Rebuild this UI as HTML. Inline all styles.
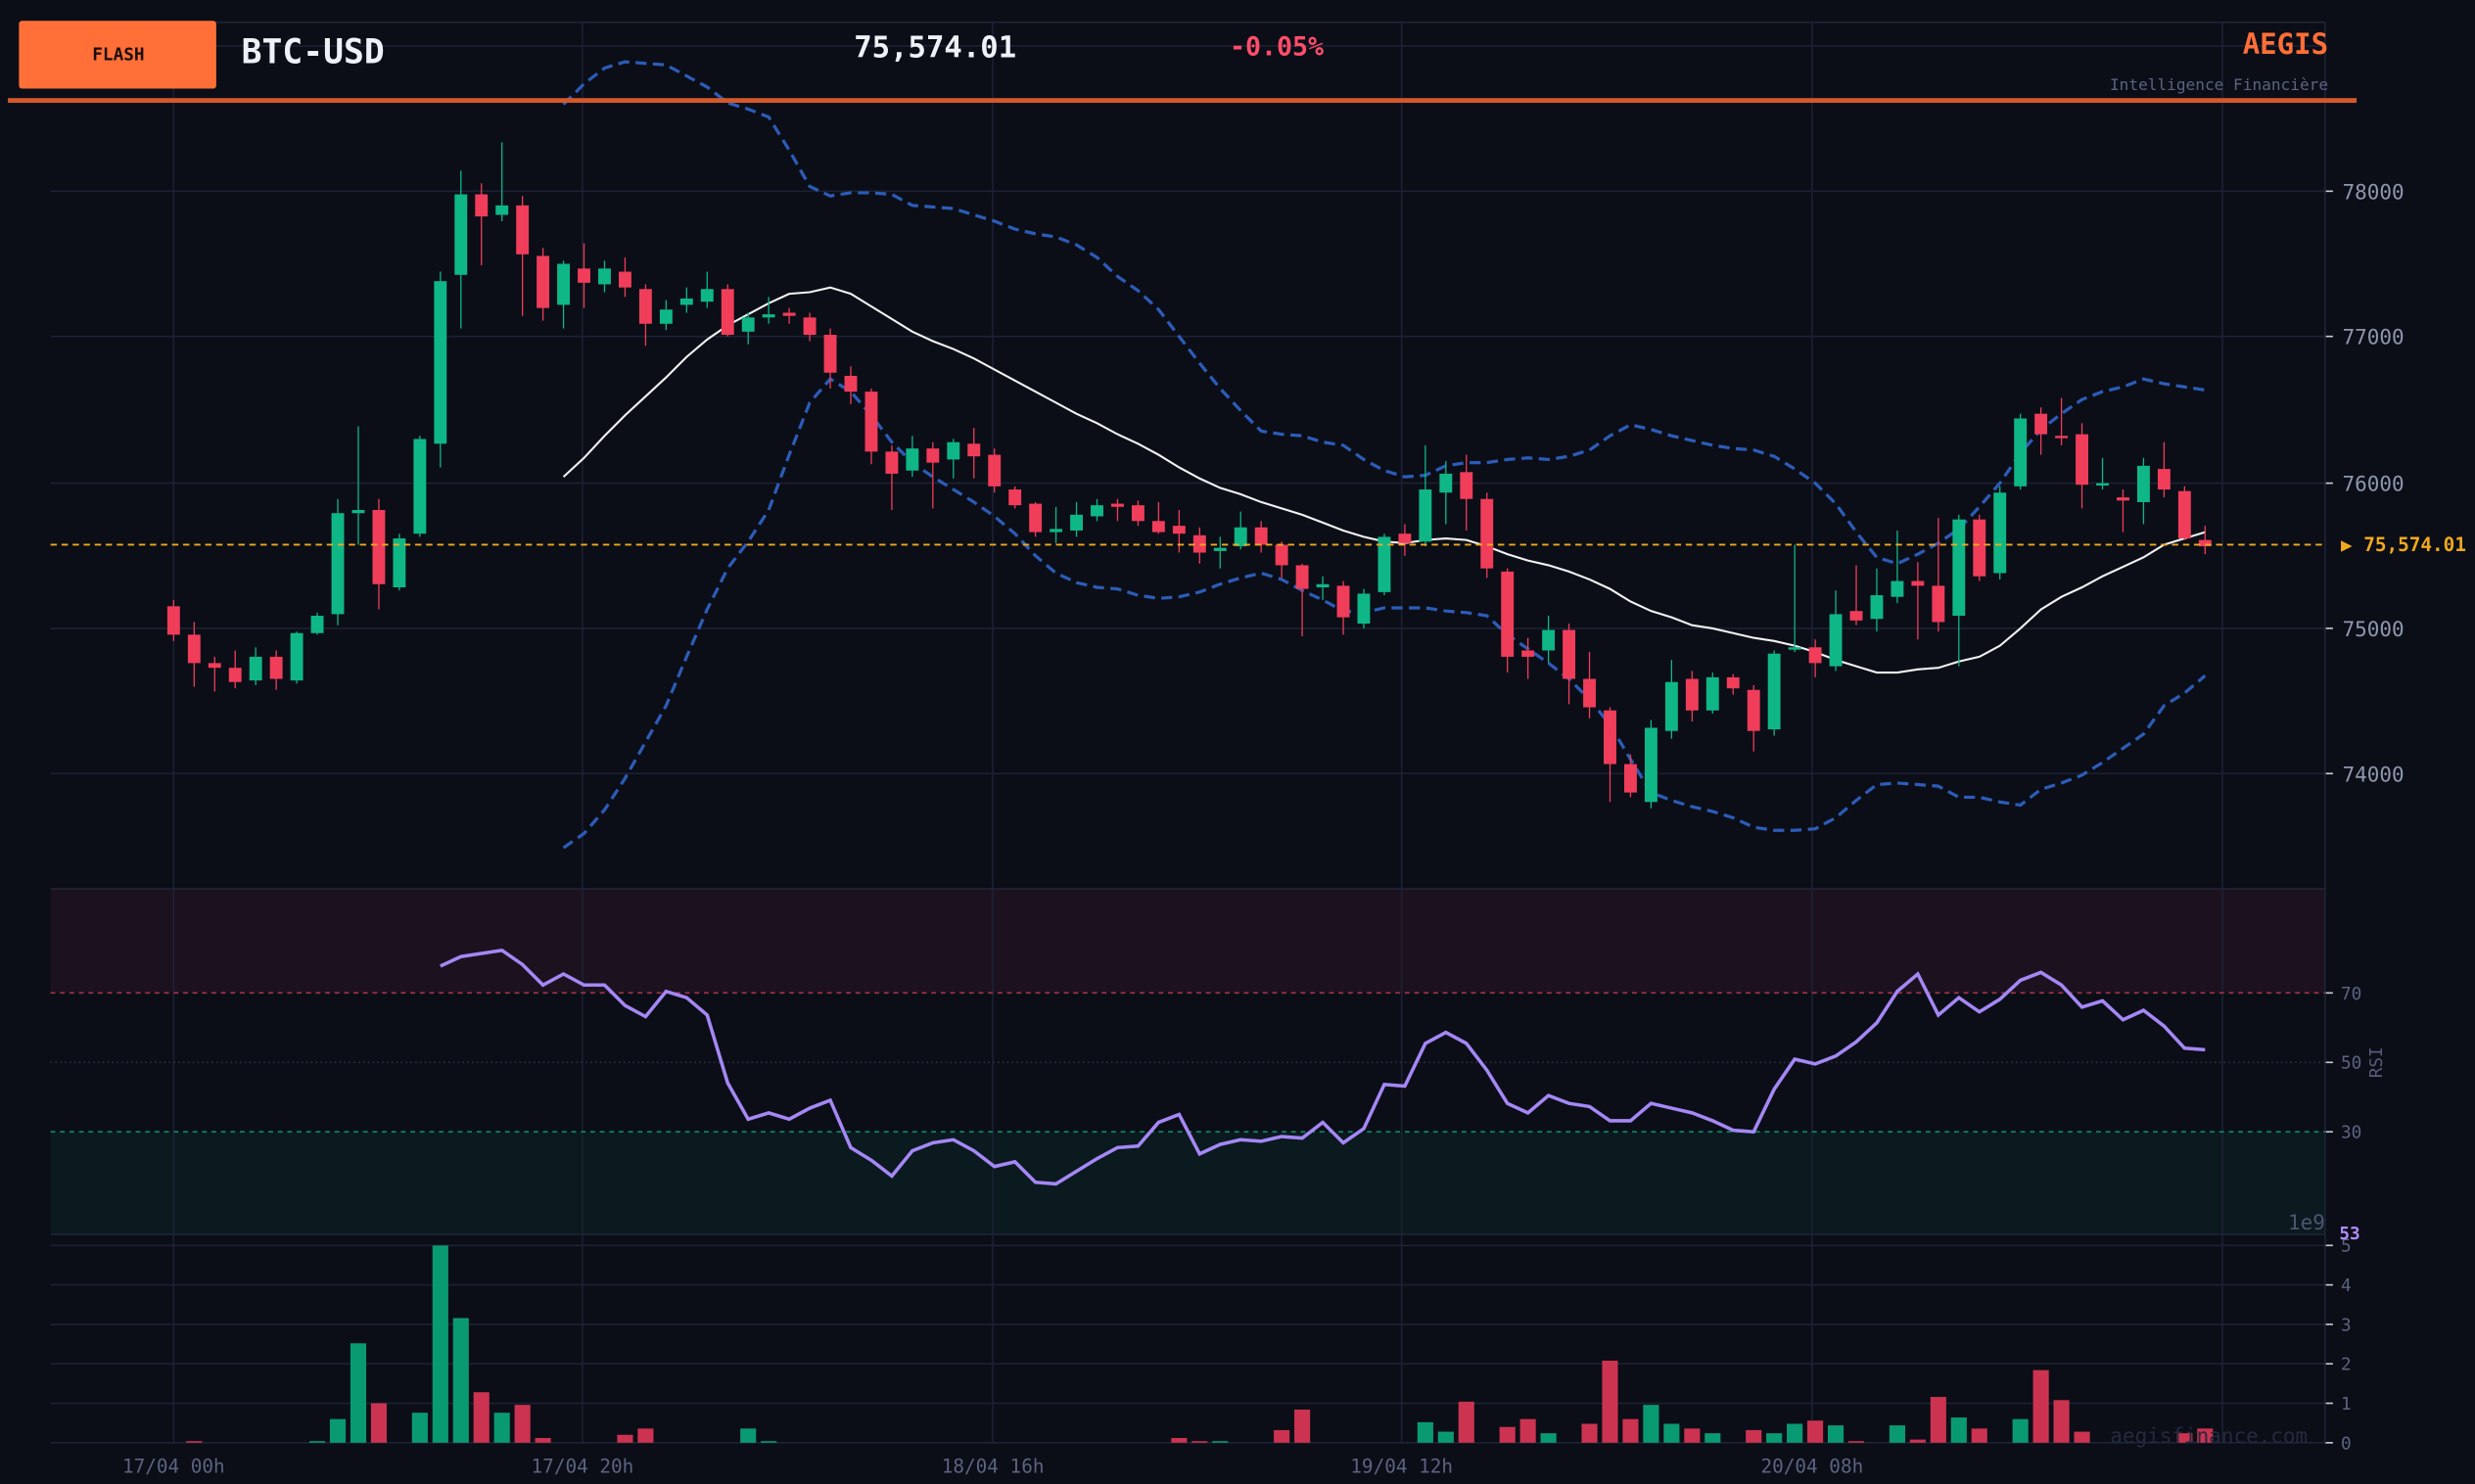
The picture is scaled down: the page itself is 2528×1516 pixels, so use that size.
<!DOCTYPE html>
<html><head><meta charset="utf-8"><style>
html,body{margin:0;padding:0;background:#0b0e17;}
svg{display:block}
text{font-family:"DejaVu Sans Mono","Liberation Mono",monospace;}
</style></head><body>
<svg id="s" width="2528" height="1516" viewBox="0 0 1568 940" xmlns="http://www.w3.org/2000/svg">
<rect width="1568" height="940" fill="#0b0e17"/>
<rect x="32" y="563" width="1441" height="66" fill="#1c121f"/>
<rect x="32" y="717" width="1441" height="65" fill="#0a1a1f"/>
<g id="grid" stroke="#1c2133" stroke-width="1"></g>
<g stroke="#1e2436" fill="none">
<line x1="32" y1="14" x2="1473" y2="14"/><line x1="1473" y1="14" x2="1473" y2="914"/>
<line x1="32" y1="563" x2="1473" y2="563"/><line x1="32" y1="782" x2="1473" y2="782"/><line x1="32" y1="914" x2="1473" y2="914"/>
</g>
<line x1="32" y1="629" x2="1473" y2="629" stroke="#a8344a" stroke-dasharray="3,3"/>
<line x1="32" y1="673" x2="1473" y2="673" stroke="#2a2f44" stroke-dasharray="1,2"/>
<line x1="32" y1="717" x2="1473" y2="717" stroke="#0e8a6a" stroke-dasharray="3,3"/>
<g id="vol"></g>
<g id="bands" fill="none"></g>
<g id="candles"></g>
<line x1="32" y1="345" x2="1473" y2="345" stroke="#f0a81e" stroke-width="1.2" stroke-dasharray="4,3"/>
<g id="ticks" fill="#8f97ad" font-size="13"></g>
<text x="1483" y="349" fill="#f0a81e" font-size="12" font-weight="bold">▶ 75,574.01</text>
<text x="1509" y="673" fill="#555d78" font-size="11" transform="rotate(-90 1509 673)" text-anchor="middle">RSI</text>
<text x="1473" y="779" fill="#4d5570" font-size="13" text-anchor="end">1e9</text>
<text x="1482" y="785" fill="#b18cff" font-size="11" font-weight="bold">53</text>
<text x="1462" y="914" fill="#232a3e" font-size="13" text-anchor="end">aegisfinance.com</text>
<rect x="5" y="62" width="1488" height="3" fill="#d4592a"/>
<rect x="12" y="13" width="125" height="43" rx="2" fill="#ff6f37"/>
<text x="75" y="38" fill="#1a0e08" font-size="11" font-weight="bold" text-anchor="middle">FLASH</text>
<text x="153" y="40" fill="#eef1f7" font-size="21.5" font-weight="bold">BTC-USD</text>
<text x="541" y="36" fill="#eef1f7" font-size="19" font-weight="bold">75,574.01</text>
<text x="779" y="35" fill="#ff4d6a" font-size="16.5" font-weight="bold">-0.05%</text>
<text x="1475" y="34" fill="#ff6f37" font-size="18" font-weight="bold" text-anchor="end">AEGIS</text>
<text x="1475" y="57" fill="#5b6380" font-size="10" text-anchor="end">Intelligence Financière</text>
</svg>
<script>
const NS="http://www.w3.org/2000/svg";
function el(p,t,a){const e=document.createElementNS(NS,t);for(const k in a)e.setAttribute(k,a[k]);document.getElementById(p).appendChild(e);return e;}
[110,369,629,888,1148,1408].forEach(x=>el("grid","line",{x1:x,y1:14,x2:x,y2:914}));
[29,121,213,306,398,490].forEach(y=>el("grid","line",{x1:32,y1:y,x2:1473,y2:y}));
[789,814,839,864,889].forEach(y=>el("grid","line",{x1:32,y1:y,x2:1473,y2:y}));
[[121,"78000"],[213,"77000"],[306,"76000"],[398,"75000"],[490,"74000"]].forEach(([y,t])=>{el("grid","line",{x1:1473,y1:y,x2:1478,y2:y,stroke:"#c8ccd6"});el("ticks","text",{x:1484,y:y+5}).textContent=t;});
[[629,"70"],[673,"50"],[717,"30"]].forEach(([y,t])=>{el("grid","line",{x1:1473,y1:y,x2:1478,y2:y,stroke:"#c8ccd6"});const e=el("ticks","text",{x:1483,y:y+4,"font-size":11,fill:"#5b6380"});e.textContent=t;});
[0,1,2,3,4,5].forEach(v=>{const y=914-v*25;el("grid","line",{x1:1473,y1:y,x2:1478,y2:y,stroke:"#c8ccd6"});const e=el("ticks","text",{x:1483,y:y+4,"font-size":11,fill:"#5b6380"});e.textContent=v;});
[[110,"17/04 00h"],[369,"17/04 20h"],[629,"18/04 16h"],[888,"19/04 12h"],[1148,"20/04 08h"]].forEach(([x,t])=>{const e=el("ticks","text",{x:x,y:933,"text-anchor":"middle","font-size":12,fill:"#5b6380"});e.textContent=t;});
const C=[[384,402,380,406],[402,420,394,435],[420,423,416,438],[423,432,412,436],[431,416,410,434],[416,430,412,437],[431,401,400,433],[401,390,388,402],[389,325,316,396],[325,323,270,345],[323,370,316,386],[372,341,338,374],[338,278,276,340],[281,178,172,296],[174,123,108,208],[123,137,116,168],[136,130,90,140],[130,161,124,200],[162,195,157,203],[193,167,165,208],[170,179,154,195],[180,170,165,185],[172,182,163,188],[183,205,180,219],[205,196,190,209],[193,189,182,198],[191,183,172,195],[183,212,180,213],[210,201,198,218],[201,199,188,205],[198,200,195,205],[201,212,198,216],[212,236,208,246],[238,248,232,256],[248,286,246,294],[286,300,282,323],[298,284,276,302],[284,293,280,322],[291,280,278,303],[281,289,271,303],[288,308,284,312],[310,320,308,322],[319,337,318,340],[337,335,321,344],[336,326,318,340],[327,320,316,330],[319,321,316,330],[320,330,317,333],[330,337,318,338],[333,338,323,350],[339,350,334,357],[349,347,340,360],[346,334,324,348],[334,345,330,350],[345,358,343,366],[358,373,357,403],[372,370,365,380],[371,391,368,402],[395,376,373,398],[375,340,338,377],[338,344,332,352],[343,310,282,346],[312,300,292,332],[299,316,288,336],[316,360,312,366],[362,416,360,426],[412,416,404,430],[412,399,390,420],[399,430,395,446],[430,448,413,455],[450,484,448,508],[484,502,478,505],[508,461,456,512],[463,432,418,468],[430,450,425,457],[450,429,426,452],[429,436,427,440],[437,463,434,476],[462,414,412,466],[411,410,345,413],[410,420,405,429],[422,389,374,425],[387,393,358,396],[392,377,360,400],[378,368,336,382],[368,371,356,405],[371,394,328,400],[390,329,326,422],[329,365,326,368],[363,312,308,367],[308,265,262,310],[262,275,258,288],[276,277,252,282],[275,307,268,322],[307,306,290,310],[315,317,310,337],[318,295,290,332],[297,310,280,315],[311,341,308,342],[342,346,333,351]];
const G="#0fb786",R="#f03d5a";
C.forEach((c,i)=>{const x=110+i*13;const col=(c[1]<c[0])?G:R;
el("candles","line",{x1:x,y1:c[2],x2:x,y2:c[3],stroke:col,"stroke-width":0.8});
const t=Math.min(c[0],c[1]),b=Math.max(c[0],c[1]);el("candles","rect",{x:x-4,y:t,width:8,height:Math.max(b-t,1.5),fill:col});});
const V={1:913,7:913,8:899,9:851,10:889,12:895,13:789,14:835,15:882,16:895,17:890,18:911,22:909,23:905,28:905,29:913,49:911,50:913,51:913,54:906,55:893,61:901,62:907,63:888,65:904,66:899,67:908,69:902,70:862,71:899,72:890,73:902,74:905,75:908,77:906,78:908,79:902,80:900,81:903,82:913,84:903,85:912,86:885,87:898,88:905,90:899,91:868,92:887,93:907,98:908,99:905};
for(const k in V){const i=+k,c=C[i];const col=(c[1]<c[0])?"#0a9a72":"#cc3350";el("vol","rect",{x:110+i*13-5,y:V[k],width:10,height:914-V[k],fill:col});}
function pl(ys,x0){return ys.map((y,i)=>(x0+i*13)+","+y).join(" ");}
const U=[66,53,43,39,40,41,48,55,65,69,74,95,118,124,122,122,123,130,131,132,136,140,145,148,150,155,163,175,184,196,213,230,246,260,273,275,276,280,282,291,298,302,301,295,293,293,291,290,291,289,285,276,269,272,276,279,282,284,285,289,297,306,319,337,353,357,351,344,335,321,306,287,272,262,253,248,245,240,243,245,247];
const L=[537,528,513,493,470,447,416,386,360,343,323,288,255,240,248,263,280,293,302,310,318,327,338,352,363,369,372,373,377,379,378,375,370,366,363,367,374,380,387,388,385,385,385,387,388,390,402,411,420,430,443,459,481,502,507,511,514,518,524,526,526,525,518,507,497,496,497,498,505,505,508,510,500,496,491,483,474,465,447,439,428];
const M=[302,290,276,263,251,239,226,215,206,199,192,186,185,182,186,194,202,210,216,221,227,234,241,248,255,262,268,275,281,288,296,303,309,313,318,322,326,331,336,340,343,344,342,341,342,346,351,355,358,362,367,373,381,387,391,396,398,401,404,406,409,413,418,422,426,426,424,423,419,416,409,398,386,378,372,365,359,353,345,341,337];
const RS=[612,606,604,602,611,624,617,624,624,637,644,628,632,643,686,709,705,709,702,697,727,735,745,729,724,722,729,739,736,749,750,742,734,727,726,711,706,731,725,722,723,720,721,711,724,715,687,688,661,654,661,678,699,705,694,699,701,710,710,699,702,705,710,716,717,690,671,674,669,660,648,628,617,643,632,641,633,621,616,624,638,634,646,640,650,664,665];
el("bands","polyline",{points:pl(U,357),stroke:"#2c5cb8","stroke-width":2,"stroke-dasharray":"7,4"});
el("bands","polyline",{points:pl(L,357),stroke:"#2c5cb8","stroke-width":2,"stroke-dasharray":"7,4"});
el("bands","polyline",{points:pl(M,357),stroke:"#f2f2f2","stroke-width":1.3});
el("bands","polyline",{points:pl(RS,279),stroke:"#a587f5","stroke-width":2.2});
</script>
</body></html>
